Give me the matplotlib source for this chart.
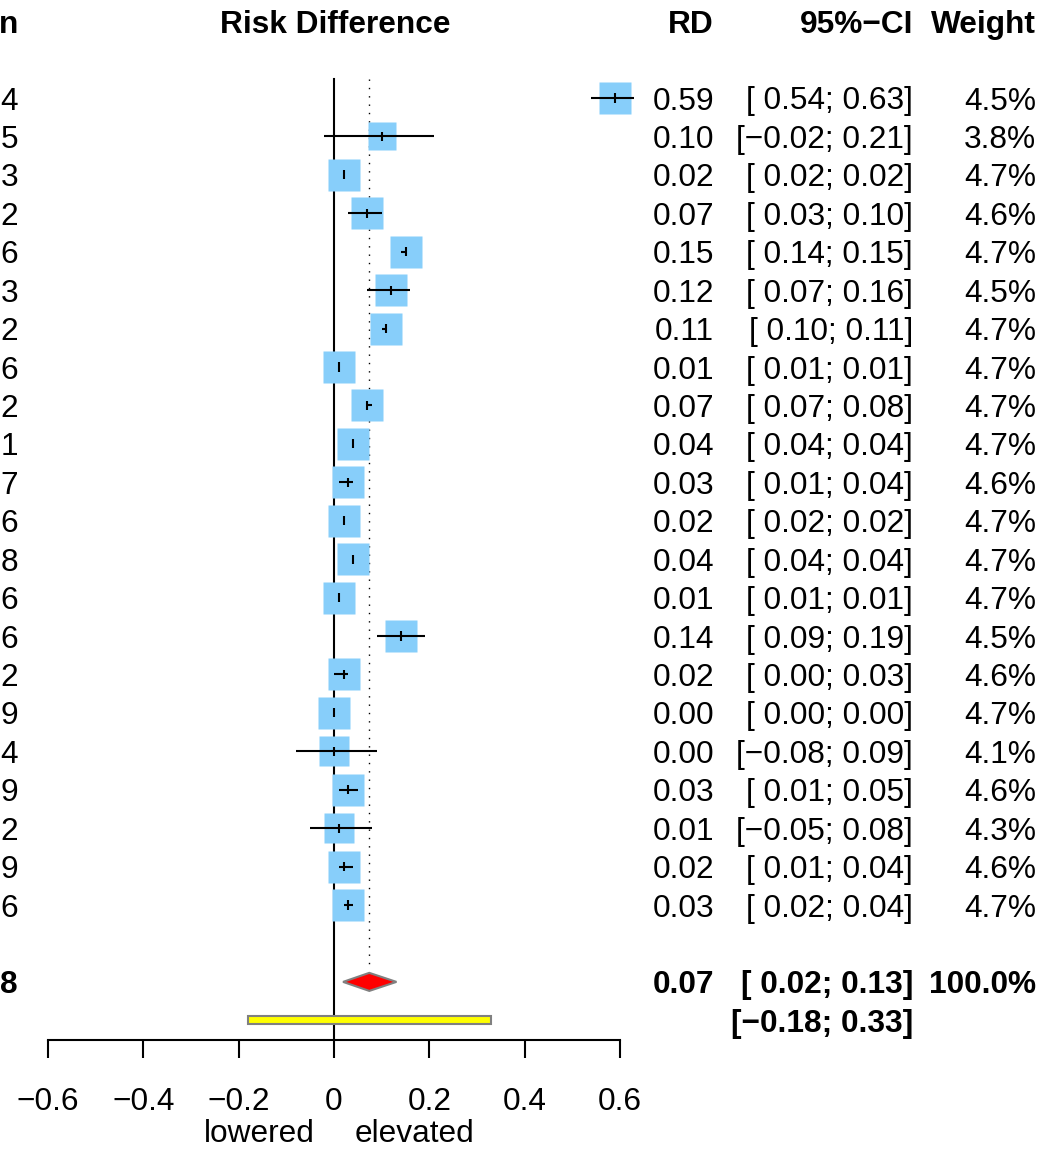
import matplotlib
matplotlib.use("Agg")
import matplotlib.pyplot as plt
import matplotlib.transforms as mtransforms
from matplotlib.patches import Polygon, Rectangle
import numpy as np

plt.rcParams['font.family'] = ['Liberation Sans', 'DejaVu Sans']

# ---------------- data ----------------
n_digit = ["4", "5", "3", "2", "6", "3", "2", "6", "2", "1", "7",
           "6", "8", "6", "6", "2", "9", "4", "9", "2", "9", "6"]
rd = [0.59, 0.10, 0.02, 0.07, 0.15, 0.12, 0.11, 0.01, 0.07, 0.04, 0.03,
      0.02, 0.04, 0.01, 0.14, 0.02, 0.00, 0.00, 0.03, 0.01, 0.02, 0.03]
ci_lo = [0.54, -0.02, 0.02, 0.03, 0.14, 0.07, 0.10, 0.01, 0.07, 0.04, 0.01,
         0.02, 0.04, 0.01, 0.09, 0.00, 0.00, -0.08, 0.01, -0.05, 0.01, 0.02]
ci_hi = [0.63, 0.21, 0.02, 0.10, 0.15, 0.16, 0.11, 0.01, 0.08, 0.04, 0.04,
         0.02, 0.04, 0.01, 0.19, 0.03, 0.00, 0.09, 0.05, 0.08, 0.04, 0.04]
weight = [4.5, 3.8, 4.7, 4.6, 4.7, 4.5, 4.7, 4.7, 4.7, 4.7, 4.6,
          4.7, 4.7, 4.7, 4.5, 4.6, 4.7, 4.1, 4.6, 4.3, 4.6, 4.7]
total_digit = "8"
pooled_rd, pooled_lo, pooled_hi = 0.074, 0.019, 0.131
pooled_weight = 100.0
pred_lo, pred_hi = -0.18, 0.33
xticks = [-0.6, -0.4, -0.2, 0.0, 0.2, 0.4, 0.6]

# ---------------- layout ----------------
W, H = 1040, 1150
ROW = 38.43          # px per row
Y0 = 98              # px of first row
AXIS_Y = 1040        # px of x axis
FS = 22.8

fig = plt.figure(figsize=(W / 100, H / 100), dpi=100)
fig.patch.set_facecolor("white")
ax = fig.add_axes([48 / W, (H - AXIS_Y) / H, 572 / W, AXIS_Y / H])
ax.set_xlim(-0.6, 0.6)
y_top = -Y0 / ROW
y_bot = (AXIS_Y - Y0) / ROW
ax.set_ylim(y_bot, y_top)
ax.patch.set_alpha(0)

k = len(rd)
rows = np.arange(k)
y_sum = k + 1
y_pred = k + 2

# reference lines
ax.plot([0, 0], [-0.5, y_bot], color="black", lw=1.5, zorder=1, clip_on=False)
ax.plot([pooled_rd, pooled_rd], [-0.5, y_sum - 0.3], color="black", lw=1.0,
        ls=(0, (1, 5)), zorder=1)

# boxes
px_per_pt = 100 / 72
for i in rows:
    side_px = 32 * np.sqrt(weight[i] / 4.7)
    ax.plot(rd[i], i, marker="s", ms=side_px / px_per_pt, mfc="#87CEFA",
            mec="none", zorder=2, clip_on=False)
    ax.plot([ci_lo[i], ci_hi[i]], [i, i], color="black", lw=1.5, zorder=3,
            clip_on=False, solid_capstyle="butt")
    ax.plot([rd[i], rd[i]], [i - 0.12, i + 0.12], color="black", lw=1.5,
            zorder=3, clip_on=False, solid_capstyle="butt")

# diamond
dh = 0.235
ax.add_patch(Polygon([[pooled_lo, y_sum], [pooled_rd, y_sum - dh],
                      [pooled_hi, y_sum], [pooled_rd, y_sum + dh]],
                     closed=True, facecolor="red", edgecolor="gray", lw=1.5,
                     zorder=4))
# prediction interval
ph = 0.1
ax.add_patch(Rectangle((pred_lo, y_pred - ph), pred_hi - pred_lo, 2 * ph,
                       facecolor="yellow", edgecolor="gray", lw=1.5, zorder=4))

# axis
for s in ["left", "right", "top"]:
    ax.spines[s].set_visible(False)
ax.spines["bottom"].set_linewidth(1.5)
ax.set_yticks([])
ax.set_xticks(xticks)
ax.set_xticklabels([("%g" % t).replace("-", "\u2212") if t != 0 else "0"
                    for t in xticks], fontsize=FS)
ax.tick_params(axis="x", direction="out", length=13, width=1.5, pad=20.5)

# ---------------- text columns ----------------
tr = mtransforms.blended_transform_factory(fig.transFigure, ax.transData)


def col(xpx, y, s, ha="right", bold=False):
    fig.text(xpx / W, y, s, transform=tr, ha=ha, va="center_baseline",
             fontsize=FS, fontweight="bold" if bold else "normal")


def fmt(v):
    s = "%.2f" % v
    if s == "-0.00":
        s = "0.00"
    return s.replace("-", "\u2212")


def fmt_ci(a, b):
    la = fmt(a)
    if not la.startswith("\u2212"):
        la = " " + la
    return "[%s; %s]" % (la, fmt(b))


LEFT_X = 18
y_head = -2.0
col(LEFT_X, y_head, "n", bold=True)
col(335, y_head, "Risk Difference", ha="center", bold=True)
col(714, y_head, "RD", bold=True)
col(913, y_head, "95%\u2212CI", bold=True)
col(1036, y_head, "Weight", bold=True)

for i in rows:
    col(LEFT_X, i, n_digit[i])
    col(714, i, fmt(rd[i]))
    col(913, i, fmt_ci(ci_lo[i], ci_hi[i]))
    col(1036, i, "%.1f%%" % weight[i])

col(LEFT_X, y_sum, total_digit, bold=True)
col(714, y_sum, fmt(pooled_rd), bold=True)
col(913, y_sum, fmt_ci(pooled_lo, pooled_hi), bold=True)
col(1036, y_sum, "%.1f%%" % pooled_weight, bold=True)
col(913, y_pred, fmt_ci(pred_lo, pred_hi), bold=True)

fig.text(259 / W, 1 - 1131 / H, "lowered", ha="center", va="center_baseline",
         fontsize=FS)
fig.text(414 / W, 1 - 1131 / H, "elevated", ha="center", va="center_baseline",
         fontsize=FS)

fig.savefig("out.png", dpi=100, facecolor="white")
